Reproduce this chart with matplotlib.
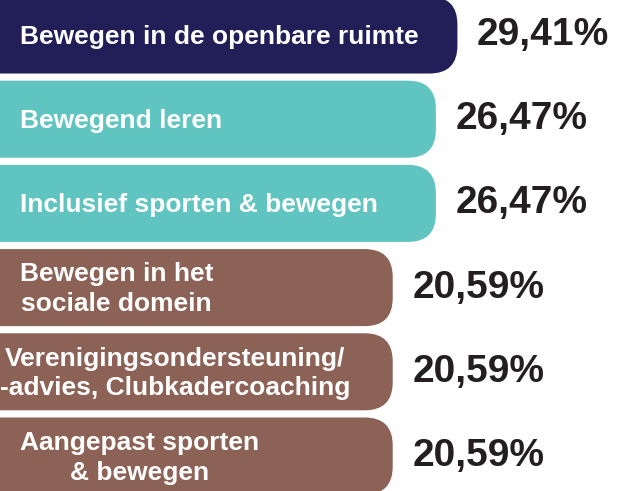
import matplotlib.pyplot as plt
from matplotlib.patches import FancyBboxPatch

# data
categories = ['Bewegen in de openbare ruimte',
              'Bewegend leren',
              'Inclusief sporten & bewegen',
              'Bewegen in het\nsociale domein',
              'Verenigingsondersteuning/\n-advies, Clubkadercoaching',
              'Aangepast sporten\n& bewegen']
values = [29.41, 26.47, 26.47, 20.59, 20.59, 20.59]
value_labels = ['29,41%', '26,47%', '26,47%', '20,59%', '20,59%', '20,59%']

# styling
navy = '#211e58'
teal = '#60c4c1'
brown = '#8c6256'
colors = [navy, teal, teal, brown, brown, brown]
label_x_px = [20, 20, 20, 20, 0, 20]

W, H = 629, 491
fig = plt.figure(figsize=(W / 100, H / 100), dpi=100)
ax = fig.add_axes([0, 0, 1, 1])
ax.axis('off')

x0, x1 = -32.95, 52.8          # horizontal scale (label area left of zero)
ax.set_xlim(x0, x1)
ax.set_ylim(5.4157, -0.4157)
px_x = W / (x1 - x0)
px_y = H / (5.4157 + 0.4157)

bar_h = 0.915
radius_px = 28
r = radius_px / px_x
for i, (v, c) in enumerate(zip(values, colors)):
    left = x0 - 2 * r
    patch = FancyBboxPatch((left, i - bar_h / 2), v - left, bar_h,
                           boxstyle=f'round,pad=0,rounding_size={r}',
                           mutation_aspect=px_x / px_y,
                           facecolor=c, edgecolor='none', clip_on=True)
    ax.add_patch(patch)

font = ['Liberation Sans', 'DejaVu Sans']
for i, (lab, lx) in enumerate(zip(categories, label_x_px)):
    ax.text(x0 + lx / px_x, i + 0.02, lab, ha='left', va='center', multialignment='center',
            color='white', fontsize=19, fontweight='bold', family=font,
            linespacing=1.3)

for i, (v, lab) in enumerate(zip(values, value_labels)):
    ax.annotate(lab, (v, i), xytext=(14, 0), textcoords='offset points',
                ha='left', va='center', color='#231f20', fontsize=28,
                fontweight='bold', family=font)

fig.savefig('out.png', dpi=100)
